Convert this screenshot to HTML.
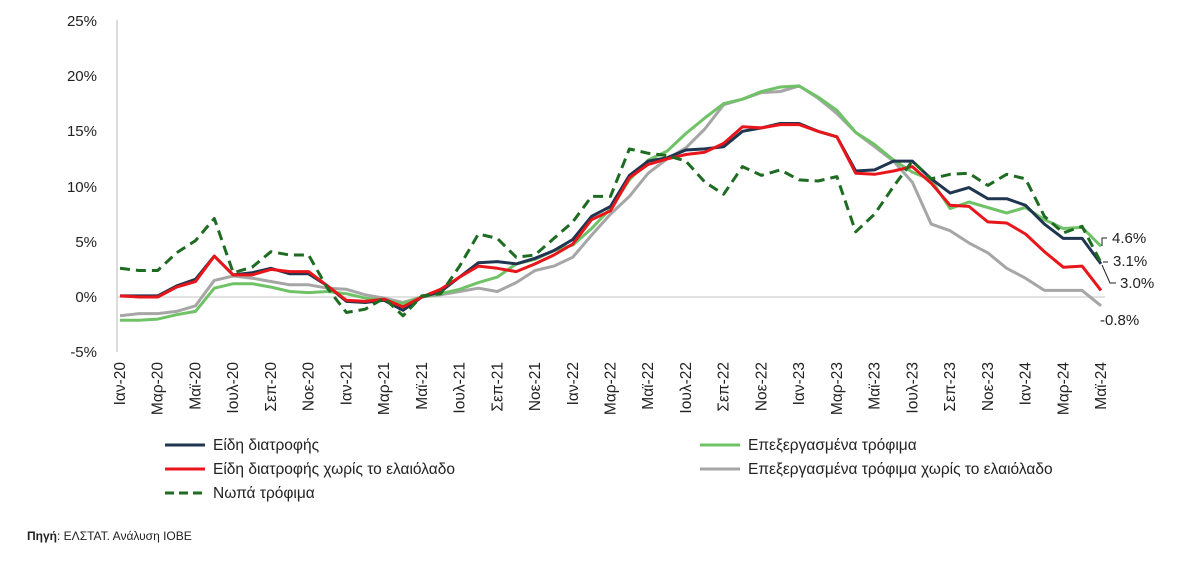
<!DOCTYPE html>
<html><head><meta charset="utf-8"><style>
body{margin:0;background:#fff;}
svg text{font-family:"Liberation Sans","DejaVu Sans",sans-serif;fill:#222;}
</style></head><body>
<svg id="c" width="1200" height="557" xmlns="http://www.w3.org/2000/svg">
<line x1="117" y1="20" x2="117" y2="352" stroke="#d0d0d0" stroke-width="1.5"/>
<line x1="117" y1="297" x2="1105" y2="297" stroke="#d9d9d9" stroke-width="1.5"/>
<g font-size="15" text-anchor="end">
<text x="97" y="26">25%</text><text x="97" y="81">20%</text><text x="97" y="136">15%</text>
<text x="97" y="192">10%</text><text x="97" y="247">5%</text><text x="97" y="302">0%</text><text x="97" y="357">-5%</text>
</g>
<g id="xl" font-size="15.5"></g>
<g id="series"></g>
<g font-size="15">
<text x="1112" y="243">4.6%</text>
<text x="1113" y="266">3.1%</text>
<text x="1120" y="288">3.0%</text>
<text x="1100" y="325">-0.8%</text>
</g>
<polyline points="1102,246 1102,238 1107,238" fill="none" stroke="#222" stroke-width="1"/>
<polyline points="1103,262 1108,262" fill="none" stroke="#222" stroke-width="1"/>
<polyline points="1102,265 1110,283 1116,283" fill="none" stroke="#222" stroke-width="1"/>
<g font-size="15.5">
<line x1="165" y1="445" x2="205" y2="445" stroke="#1f3550" stroke-width="3"/><text x="213" y="450">Είδη διατροφής</text>
<line x1="165" y1="469" x2="205" y2="469" stroke="#e8151b" stroke-width="3"/><text x="213" y="474">Είδη διατροφής χωρίς το ελαιόλαδο</text>
<line x1="165" y1="493" x2="205" y2="493" stroke="#1e6b22" stroke-width="3" stroke-dasharray="9,5"/><text x="213" y="498">Νωπά τρόφιμα</text>
<line x1="700" y1="445" x2="740" y2="445" stroke="#70c267" stroke-width="3"/><text x="748" y="450">Επεξεργασμένα τρόφιμα</text>
<line x1="700" y1="469" x2="740" y2="469" stroke="#a6a6a6" stroke-width="3"/><text x="748" y="474">Επεξεργασμένα τρόφιμα χωρίς το ελαιόλαδο</text>
</g>
<text x="27" y="540" font-size="12"><tspan font-weight="bold">Πηγή</tspan>: ΕΛΣΤΑΤ. Ανάλυση ΙΟΒΕ</text>
</svg>
<script>
var X=function(i){return 120+i*18.865;},Y=function(v){return 297-v*11.05;};
var labs=["Ιαν","Μαρ","Μαϊ","Ιουλ","Σεπ","Νοε"],yrs=["20","21","22","23","24"];
var xl=document.getElementById("xl"),h="";
for(var i=0;i<53;i+=2){var m=(i%12)/2,y=yrs[Math.floor(i/12)];
h+='<text transform="translate('+(X(i)+5)+',362) rotate(-90)" text-anchor="end">'+labs[m]+'-'+y+'</text>';}
xl.innerHTML=h;
var S=[
["#a6a6a6",[-1.7,-1.5,-1.5,-1.3,-0.8,1.5,1.9,1.7,1.4,1.1,1.1,0.8,0.7,0.2,-0.1,-0.5,0.0,0.2,0.5,0.8,0.5,1.3,2.4,2.8,3.6,5.6,7.5,9.1,11.2,12.5,13.5,15.2,17.4,17.9,18.5,18.6,19.1,18.0,16.6,14.9,13.6,12.3,10.4,6.6,6.0,4.9,4.0,2.6,1.7,0.6,0.6,0.6,-0.8],""],
["#70c267",[-2.1,-2.1,-2.0,-1.6,-1.3,0.8,1.2,1.2,0.9,0.5,0.4,0.5,0.3,-0.1,-0.3,-0.6,0.0,0.3,0.7,1.3,1.8,3.0,3.4,4.2,4.7,6.2,8.0,10.6,12.4,13.2,14.8,16.2,17.5,17.9,18.6,19.0,19.1,18.1,16.9,14.9,13.8,12.4,11.3,10.6,8.0,8.6,8.1,7.6,8.1,7.0,6.2,6.3,4.6],""],
["#1f3550",[0.1,0.1,0.1,1.0,1.6,3.7,2.0,2.2,2.6,2.1,2.1,1.0,-0.4,-0.5,-0.3,-1.2,0.0,0.5,1.8,3.1,3.2,3.0,3.5,4.2,5.2,7.3,8.2,11.0,12.3,12.6,13.3,13.4,13.6,15.0,15.3,15.7,15.7,15.0,14.5,11.4,11.5,12.3,12.3,10.7,9.4,9.9,8.9,8.9,8.3,6.6,5.3,5.3,3.0],""],
["#e8151b",[0.1,0.0,0.0,0.9,1.4,3.7,2.0,2.0,2.5,2.3,2.3,1.0,-0.3,-0.4,-0.2,-0.9,0.0,0.7,1.8,2.8,2.6,2.3,3.0,3.8,4.8,7.0,7.8,10.8,12.0,12.5,12.9,13.1,13.9,15.4,15.3,15.6,15.6,15.0,14.5,11.2,11.1,11.4,11.8,10.3,8.3,8.2,6.8,6.7,5.7,4.1,2.7,2.8,0.6],""],
["#1e6b22",[2.6,2.4,2.4,4.0,5.1,7.1,2.2,2.7,4.1,3.8,3.8,0.8,-1.4,-1.1,-0.1,-1.7,0.1,0.3,2.8,5.7,5.3,3.6,3.8,5.3,6.8,9.1,9.1,13.4,13.0,12.8,12.3,10.4,9.3,11.8,11.0,11.5,10.6,10.5,10.9,5.9,7.5,10.0,12.3,10.7,11.1,11.2,10.1,11.1,10.7,7.3,5.8,6.4,3.1],"10,6"]];
var g="";S.forEach(function(s){var p=s[1].map(function(v,i){return X(i).toFixed(1)+","+Y(v).toFixed(1);}).join(" ");
g+='<polyline points="'+p+'" fill="none" stroke="'+s[0]+'" stroke-width="3" stroke-linejoin="round"'+(s[2]?' stroke-dasharray="'+s[2]+'"':'')+'/>';});
document.getElementById("series").innerHTML=g;
</script>
</body></html>
